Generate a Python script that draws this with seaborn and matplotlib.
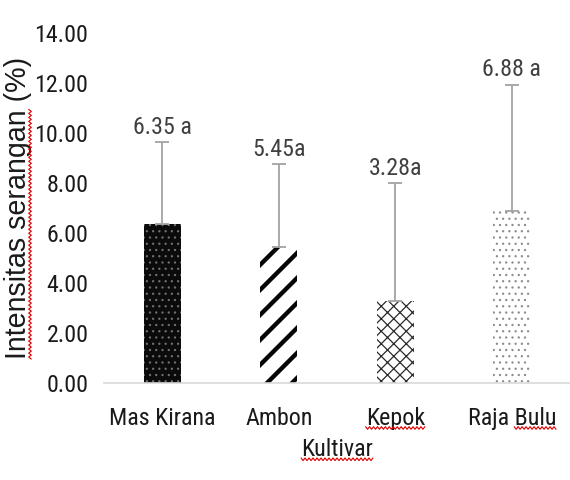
import matplotlib
matplotlib.use("Agg")
import matplotlib.pyplot as plt
from matplotlib.lines import Line2D
from matplotlib.transforms import IdentityTransform
from matplotlib import font_manager
import numpy as np
import pandas as pd
import seaborn as sns

# Data
cultivars = ["Mas Kirana", "Ambon", "Kepok", "Raja Bulu"]
intensity = [6.35, 5.45, 3.28, 6.88]
upper_err = [3.29, 3.31, 4.72, 5.06]
letters = ["6.35 a", "5.45a", "3.28a", "6.88 a"]
yticks = [0, 2, 4, 6, 8, 10, 12, 14]

sns.set_theme(style="white")

# prefer a narrow sans face when one is available
installed = {f.name for f in font_manager.fontManager.ttflist}
narrow = [n for n in ("Liberation Sans Narrow", "Arial Narrow", "Roboto Condensed")
          if n in installed]
if narrow:
    BODY = [narrow[0], "DejaVu Sans"]
    FS = 23
else:
    BODY = ["Liberation Sans", "DejaVu Sans"]
    FS = 20.5
REGULAR = ["Liberation Sans", "DejaVu Sans"]
plt.rcParams["font.family"] = BODY

df = pd.DataFrame({"Kultivar": cultivars, "Intensitas": intensity})

DPI = 75
fig = plt.figure(figsize=(570 / DPI, 480 / DPI), dpi=DPI)
fig.patch.set_facecolor("white")
ax = fig.add_axes([104 / 570, 97 / 480, 466 / 570, 350 / 480])

sns.barplot(data=df, x="Kultivar", y="Intensitas", order=cultivars,
            errorbar=None, width=0.32, color="white", ax=ax)

# fill pattern per cultivar: face colour, hatch colour, hatch, hatch width
styles = [
    ("#0b0b0b", "#707070", "..", 1.0),
    ("white", "#050505", "/", 4.2),
    ("white", "#2a2a2a", "xx", 1.2),
    ("white", "#8c8c8c", "..", 1.0),
]
for patch, (fc, hc, hatch, hlw) in zip(ax.patches, styles):
    patch.set_facecolor(fc)
    patch.set_edgecolor(hc)
    patch.set_linewidth(0)
    patch.set_hatch(hatch)
    if hasattr(patch, "set_hatch_linewidth"):
        patch.set_hatch_linewidth(hlw)

pos = np.arange(len(cultivars))
ax.errorbar(pos, intensity, yerr=[np.zeros(len(pos)), upper_err], fmt="none",
            ecolor="#a6a6a6", elinewidth=1.8, capsize=7, capthick=1.8)

for i, lab in enumerate(letters):
    ax.annotate(lab, xy=(pos[i], intensity[i] + upper_err[i]),
                xytext=(0, 3), textcoords="offset points",
                ha="center", va="bottom", fontsize=FS, color="#404040")

ax.set_xlim(-0.5, len(cultivars) - 0.5)
ax.set_ylim(0, 14)
ax.set_yticks(yticks)
ax.set_yticklabels([f"{v:.2f}" for v in yticks])
ax.tick_params(axis="both", length=0, labelsize=FS, colors="#1a1a1a")
ax.tick_params(axis="y", pad=15)
ax.tick_params(axis="x", pad=23)

for side in ["top", "right", "left"]:
    ax.spines[side].set_visible(False)
ax.spines["bottom"].set_color("#d9d9d9")
ax.spines["bottom"].set_linewidth(1.6)

ax.set_xlabel("Kultivar", fontsize=FS, color="#1a1a1a", labelpad=8)
ax.set_ylabel("Intensitas serangan (%)", fontsize=27.5, color="#1a1a1a",
              family=REGULAR, va="center")
ax.yaxis.set_label_coords(-86 / 466, 0.5)

# red wavy spell-check underlines
fig.canvas.draw()
renderer = fig.canvas.get_renderer()


def word_width(s, text):
    w, h, d = renderer.get_text_width_height_descent(s, text.get_fontproperties(), ismath=False)
    return w


def squiggle(a0, a1, c, vertical=False):
    n = int(abs(a1 - a0) / 2) + 2
    t = np.linspace(a0, a1, n)
    off = c + 1.3 * np.where(np.arange(n) % 2 == 0, 1, -1)
    xs, ys = (off, t) if vertical else (t, off)
    fig.add_artist(Line2D(xs, ys, transform=IdentityTransform(),
                          color="#e00000", lw=1.1))


for tl in ax.get_xticklabels():
    s = tl.get_text()
    bb = tl.get_window_extent(renderer)
    if s == "Kepok":
        squiggle(bb.x0, bb.x1, bb.y0 + 2)
    elif s == "Raja Bulu":
        squiggle(bb.x1 - word_width("Bulu", tl), bb.x1, bb.y0 + 2)

xl = ax.xaxis.label
bb = xl.get_window_extent(renderer)
squiggle(bb.x0, bb.x1, bb.y0 + 2)

yl = ax.yaxis.label
bb = yl.get_window_extent(renderer)
squiggle(bb.y0, bb.y0 + word_width("Intensitas serangan", yl), bb.x1 - 2, vertical=True)

fig.savefig("out.png", dpi=DPI, facecolor="white")
